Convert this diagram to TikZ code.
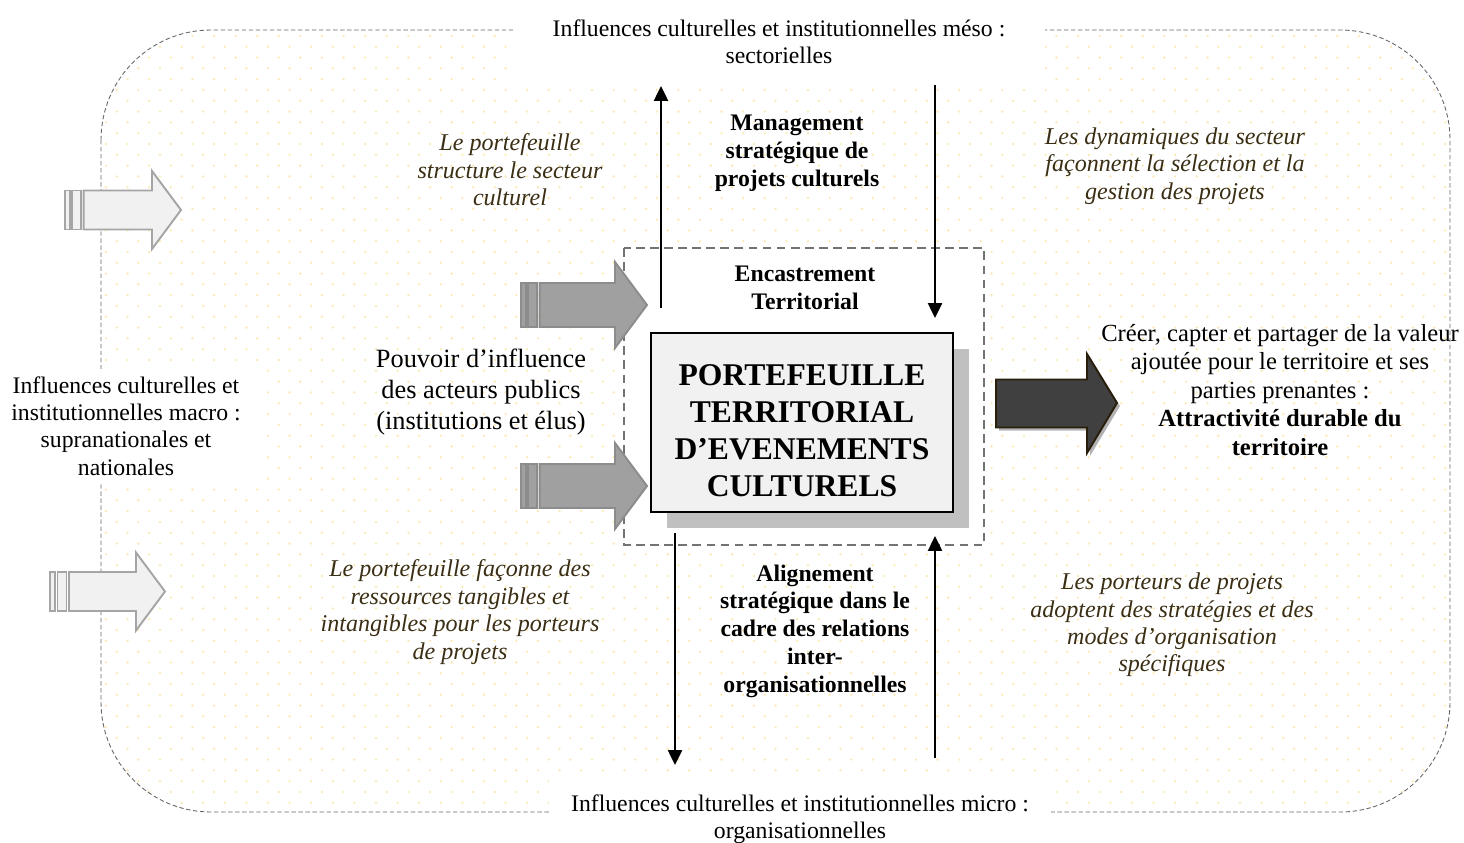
\documentclass[tikz,border=0pt]{standalone}
\usepackage{fontspec}
\setmainfont{Liberation Serif}
\usetikzlibrary{arrows.meta,shadows}

\definecolor{dotyellow}{RGB}{251,233,182}
\definecolor{italicbrown}{RGB}{58,46,20}
\definecolor{lightfill}{RGB}{241,241,241}
\definecolor{lightline}{RGB}{165,165,165}
\definecolor{midfill}{RGB}{160,160,160}
\definecolor{midline}{RGB}{140,140,140}
\definecolor{darkfill}{RGB}{64,64,64}
\definecolor{darkline}{RGB}{40,30,10}
\definecolor{shadowgray}{RGB}{192,192,192}

% striped block arrow: style, x start, y centre, half body, half head, head base, tip
\newcommand{\stripedarrow}[7]{%
  \draw[#1] (#2,#3-#4) rectangle (#2+5,#3+#4);
  \draw[#1] (#2+7.5,#3-#4) rectangle (#2+16.5,#3+#4);
  \draw[#1] (#2+19,#3-#4) -- (#6,#3-#4) -- (#6,#3-#5) -- (#7,#3)
    -- (#6,#3+#5) -- (#6,#3+#4) -- (#2+19,#3+#4) -- cycle;
}

\tikzset{
  txt/.style={align=center, font=\fontsize{13.5}{15.6}\selectfont},
  note/.style={align=center, text=italicbrown, font=\fontsize{13.7}{15.6}\selectfont\itshape},
  strong/.style={align=center, font=\fontsize{13.5}{15.8}\selectfont\bfseries},
  lightarrow/.style={fill=lightfill, draw=lightline, line width=1.1pt},
  midarrow/.style={fill=midfill, draw=midline, line width=1.1pt},
  vline/.style={line width=1.2pt, -{Triangle[width=8pt,length=8.5pt]}},
  portbox/.style={draw, line width=1.1pt, fill=lightfill, align=center,
    minimum width=6.04cm, minimum height=3.58cm,
    font=\fontsize{18}{21}\selectfont\bfseries,
    drop shadow={shadow xshift=0.32cm, shadow yshift=-0.32cm, fill=shadowgray, opacity=1}},
}

\begin{document}
\begin{tikzpicture}[x=0.02cm, y=-0.02cm]
    \useasboundingbox (0,0) rectangle (1464,842);

    % dotted ground
    \begin{scope}
        \clip[rounded corners=2.2cm] (101,30) rectangle (1450,812);
        \foreach \j in {0,...,73} {
            \fill[dotyellow] \foreach \i in {0,...,62} {
                ({106+\i*21.6+mod(\j,2)*10.8},{36+\j*10.8}) circle (0.75pt) };
        }
    \end{scope}
    \draw[gray!80!black, line width=0.5pt, dash pattern=on 2.5pt off 1.5pt, rounded corners=2.2cm]
        (101,30) rectangle (1450,812);

    \node[txt, fill=white, inner xsep=0.8cm, inner ysep=10pt] (meso) at (779,42)
        {Influences culturelles et institutionnelles méso :\\ sectorielles};
    \node[txt, fill=white, inner xsep=0.45cm, inner ysep=8pt] (micro) at (800,819)
        {Influences culturelles et institutionnelles micro :\\ organisationnelles};
    \node[txt, fill=white, inner xsep=0.4cm, inner ysep=4pt] (macro) at (126,426)
        {Influences culturelles et\\ institutionnelles macro :\\ supranationales et\\ nationales};

    % territorial frame
    \draw[fill=white, draw=gray!90!black, line width=1pt, dash pattern=on 5pt off 3pt]
        (624,248) rectangle (984,545);

    \stripedarrow{lightarrow}{64.6}{210}{19.5}{39}{152}{181}
    \stripedarrow{lightarrow}{50}{591.5}{19.5}{39}{136}{165}
    \stripedarrow{midarrow}{520.7}{305}{22}{43}{615}{647}
    \stripedarrow{midarrow}{520.7}{486}{22}{43}{615}{647}

    \node[portbox] (port) at (802,422.5)
        {\rule{0pt}{21.5pt}PORTEFEUILLE\\ TERRITORIAL\\ D’EVENEMENTS\\ CULTURELS};

    % output arrow
    \fill[gray!60] (999,382.5) -- (1090,382.5) -- (1090,357) -- (1120,406)
        -- (1090,456) -- (1090,430.5) -- (999,430.5) -- cycle;
    \draw[fill=darkfill, draw=darkline, line width=1.1pt] (996,379.5) -- (1087,379.5)
        -- (1087,354) -- (1117,403) -- (1087,453) -- (1087,427.5) -- (996,427.5) -- cycle;

    % vertical links
    \coordinate (upA) at (661,308);
    \coordinate (upB) at (661,86);
    \coordinate (downA) at (935,85);
    \coordinate (downB) at (935,318);
    \coordinate (lowA) at (675,533);
    \coordinate (lowB) at (675,765);
    \coordinate (riseA) at (935,758);
    \coordinate (riseB) at (935,536);
    \draw[vline] (upA) -- (upB);
    \draw[vline] (downA) -- (downB);
    \draw[vline] (lowA) -- (lowB);
    \draw[vline] (riseA) -- (riseB);

    \node[strong] (mgt) at (797,153) {Management\\ stratégique de\\ projets culturels};
    \node[strong] (enc) at (805,288) {Encastrement\\ Territorial};
    \node[strong] (align) at (815,631)
        {Alignement\\ stratégique dans le\\ cadre des relations\\ inter-\\ organisationnelles};

    \node[note] (structure) at (510,170) {Le portefeuille\\ structure le secteur\\ culturel};
    \node[note] (dynamics) at (1175,166)
        {Les dynamiques du secteur\\ façonnent la sélection et la\\ gestion des projets};
    \node[note] (resources) at (460,612)
        {Le portefeuille façonne des\\ ressources tangibles et\\ intangibles pour les porteurs\\ de projets};
    \node[note] (carriers) at (1172,625)
        {Les porteurs de projets\\ adoptent des stratégies et des\\ modes d’organisation\\ spécifiques};

    \node[align=center, font=\fontsize{15}{17.5}\selectfont] (power) at (481,392)
        {Pouvoir d’influence\\ des acteurs publics\\ (institutions et élus)};
    \node[align=center, font=\fontsize{14}{16.2}\selectfont] (value) at (1280,390)
        {Créer, capter et partager de la valeur\\ ajoutée pour le territoire et ses\\ parties prenantes :\\
         \textbf{Attractivité durable du}\\ \textbf{territoire}};
\end{tikzpicture}
\end{document}
